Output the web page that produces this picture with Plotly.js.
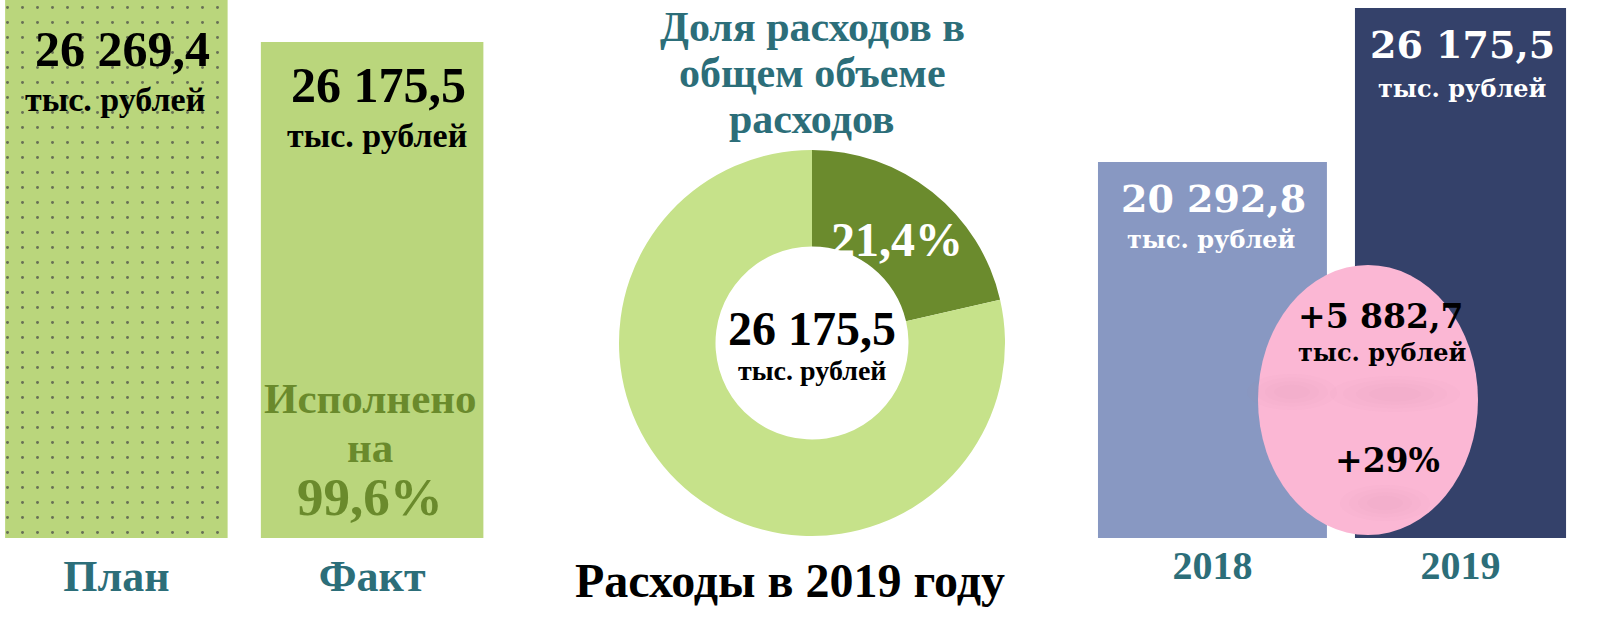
<!DOCTYPE html>
<html><head><meta charset="utf-8">
<script src="https://cdn.plot.ly/plotly-3.0.1.min.js"></script>
<style>html,body{margin:0;padding:0;background:#fff}#chart{width:1620px;height:624px}</style>
</head><body><div id="chart"></div>
<script>
// ---- data ----
const planFactCats = ['План', 'Факт'];
const planFactValues = [26269.4, 26175.5];
const shareLabels = ['Доля', 'Прочие'];
const shareValues = [21.4, 78.6];
const totalExpense = 26175.5;
const yearCats = ['2018', '2019'];
const yearValues = [20292.8, 26175.5];
const unitLabel = 'тыс. рублей';
const donutTitleLines = ['Доля расходов в', 'общем объеме', 'расходов'];
const donutCaption = 'Расходы в 2019 году';
const doneLines = ['Исполнено', 'на'];

// ---- helpers ----
const W = 1620, H = 624;
const px = x => x / W;
const py = y => 1 - y / H;
const fmt = v => {
  const s = v.toFixed(1).split('.');
  return s[0].replace(/\B(?=(\d{3})+(?!\d))/g, ' ') + ',' + s[1];
};
const fmtPct = (v, d) => v.toFixed(d).replace('.', ',') + '%';

const teal = '#2c6e79';
const serif = 'Liberation Serif, Times New Roman, serif';
const serif2 = 'DejaVu Serif, serif';

const traces = [
  {
    type: 'bar', x: planFactCats, y: planFactValues, xaxis: 'x', yaxis: 'y',
    width: [0.87, 0.87],
    marker: {
      color: ['#bad67c', '#bad67c'],
      pattern: {shape: ['.', ''], fgcolor: '#76973f', fgopacity: 0.7, size: 15, solidity: 0.03, fillmode: 'overlay'},
      line: {width: 0}
    },
    hoverinfo: 'skip'
  },
  {
    type: 'pie', values: shareValues, labels: shareLabels, hole: 0.5, sort: false,
    direction: 'clockwise', rotation: 0,
    marker: {colors: ['#6b8b2d', '#c6e28a'], line: {width: 0}},
    textinfo: 'none', showlegend: false, hoverinfo: 'skip',
    domain: {x: [px(619), px(1005)], y: [py(536), py(150)]}
  },
  {
    type: 'bar', x: yearCats, y: yearValues, xaxis: 'x2', yaxis: 'y2',
    width: [0.923, 0.851],
    marker: {color: ['#8898c2', '#34416a'], line: {width: 0}},
    hoverinfo: 'skip'
  }
];

const shapes = [
  {type: 'circle', xref: 'paper', yref: 'paper',
   x0: px(1258), x1: px(1478), y0: py(535), y1: py(265),
   fillcolor: '#fbb7d4', line: {width: 0}, layer: 'above'}
];
// soft smudges inside the pink ellipse
const smudge = (cx, cy, rx, ry) => {
  [1, 0.8, 0.6, 0.4].forEach(k => shapes.push({
    type: 'circle', xref: 'paper', yref: 'paper',
    x0: px(cx - rx * k), x1: px(cx + rx * k), y0: py(cy + ry * k), y1: py(cy - ry * k),
    fillcolor: 'rgba(200,120,155,0.03)', line: {width: 0}, layer: 'above'
  }));
};
smudge(1292, 392, 45, 18);
smudge(1395, 394, 65, 18);
smudge(1385, 503, 45, 18);

const layout = {
  width: W, height: H,
  margin: {l: 0, r: 0, t: 0, b: 0},
  paper_bgcolor: '#fff', plot_bgcolor: 'rgba(0,0,0,0)',
  showlegend: false,
  xaxis: {domain: [0, px(500)], range: [-0.455, 1.5], type: 'category',
          showgrid: false, zeroline: false, showline: false, ticks: '',
          ticklabelstandoff: 8,
          tickfont: {family: serif, size: 44, color: teal, weight: 'bold'}, fixedrange: true},
  yaxis: {domain: [py(538), 1], range: [25066, 26269.4], visible: false, fixedrange: true},
  xaxis2: {domain: [px(1080), 1], range: [-0.534, 1.643], type: 'category', anchor: 'y2',
           showgrid: false, zeroline: false, showline: false, ticks: '',
           tickfont: {family: serif, size: 40, color: teal, weight: 'bold'}, fixedrange: true},
  yaxis2: {domain: [py(538), 1], range: [5930, 26481], visible: false, anchor: 'x2', fixedrange: true},
  shapes: shapes,
  annotations: []
};

const A = (text, x, y, size, color, family, extra) => layout.annotations.push(Object.assign({
  text: text, x: px(x), y: py(y), xref: 'paper', yref: 'paper', showarrow: false,
  xanchor: 'center', yanchor: 'middle',
  font: {family: family || serif, size: size, color: color, weight: 'bold'}
}, extra || {}));

// left panel
A(fmt(planFactValues[0]), 122, 49, 50, '#000');
A(unitLabel, 115, 100, 34, '#000');
A(fmt(planFactValues[1]), 378, 85, 50, '#000');
A(unitLabel, 377, 135, 34, '#000');
A(doneLines[0], 370, 398, 43, '#6a8a2c');
A(doneLines[1], 370, 447, 43, '#6a8a2c');
A(fmtPct(planFactValues[1] / planFactValues[0] * 100, 1), 370, 497, 53, '#6a8a2c');

// donut
[27, 73, 119].forEach((y, i) => A(donutTitleLines[i], 812, y, 42, teal));
A(fmtPct(shareValues[0], 1), 897, 240, 48, '#fff');
A(fmt(totalExpense), 812, 328, 48, '#000');
A(unitLabel, 812, 370, 28, '#000');
A(donutCaption, 790, 580, 48, '#000');

// right panel
A(fmt(yearValues[0]), 1213, 198, 38, '#fff', serif2);
A(unitLabel, 1211, 240, 24, '#fff', serif2);
A(fmt(yearValues[1]), 1462, 45, 38, '#fff', serif2);
A(unitLabel, 1462, 89, 24, '#fff', serif2);
const diff = yearValues[1] - yearValues[0];
A('+' + fmt(diff), 1380, 316, 33, '#000', serif2);
A(unitLabel, 1382, 352, 24, '#000', serif2);
A('+' + Math.round(diff / yearValues[0] * 100) + '%', 1387, 460, 33, '#000', serif2);

Plotly.newPlot('chart', traces, layout, {displayModeBar: false, staticPlot: true});
</script></body></html>
